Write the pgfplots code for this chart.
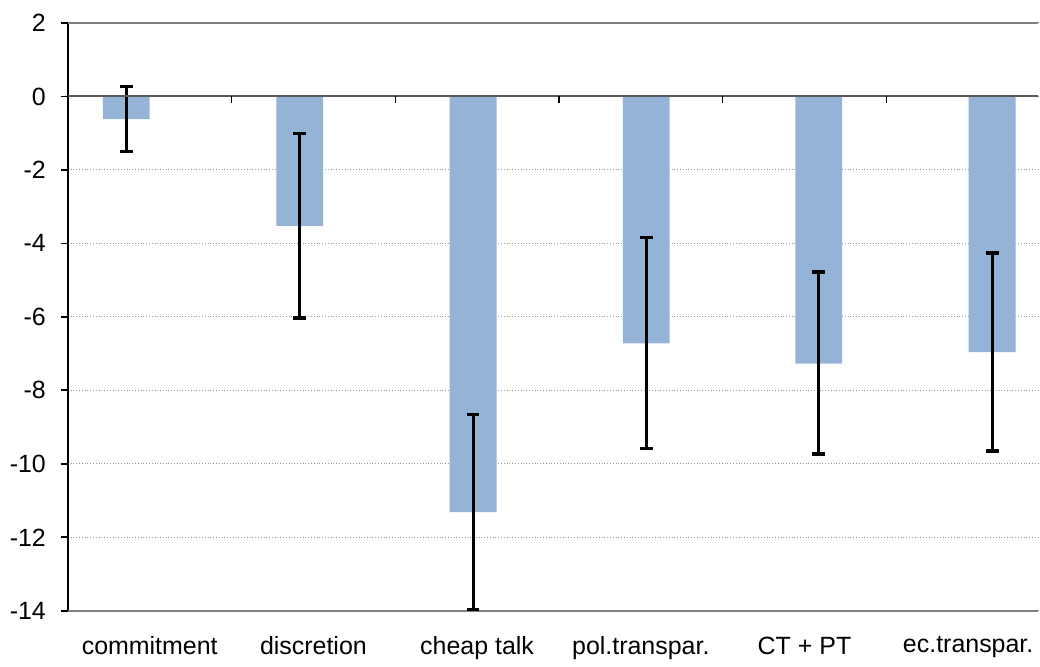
\documentclass[border=0pt]{standalone}
\usepackage{pgfplots}
\pgfplotsset{compat=1.18}
\usepackage{fontspec}
\setmainfont{Liberation Sans}
\definecolor{barblue}{RGB}{149,179,215}
\definecolor{gridgray}{RGB}{150,150,150}
\definecolor{framegray}{RGB}{128,128,128}
\definecolor{zerogray}{RGB}{90,90,90}
\begin{document}
\begin{tikzpicture}
\begin{axis}[
    scale only axis,
    width=486pt, height=294.5pt,
    xmin=68, xmax=1040,
    ymin=-14, ymax=2,
    clip=false,
    axis x line*=bottom, axis y line*=left,
    x axis line style={draw=none},
    y axis line style={black, line width=0.9pt},
    ytick={-14,-12,...,2},
    xtick={150,314,478,642,806,970},
    xticklabels={commitment, discretion, cheap talk, pol.transpar., CT + PT, ec.transpar.},
    x tick style={draw=none},
    y tick style={black, line width=0.9pt},
    tick align=outside,
    major tick length=3.5pt,
    ymajorgrids,
    grid style={gridgray, densely dotted, line width=0.5pt},
    /pgf/number format/assume math mode=true,
    ticklabel style={font=\fontsize{12.5}{15}\selectfont},
    yticklabel style={anchor=east, xshift=-4pt},
    xticklabel style={anchor=north, yshift=-6pt},
]
% frame lines at 2, -14 and the zero line
\draw[framegray, line width=1.1pt] (axis cs:68,2) -- (axis cs:1040,2);
\draw[framegray, line width=1.1pt] (axis cs:68,-14) -- (axis cs:1040,-14);

\addplot[ybar, fill=barblue, draw=none, bar width=23.5pt,
    error bars/.cd, y dir=both, y explicit,
    error bar style={draw=black, solid, line width=1.6pt},
    error mark options={rotate=90, mark size=3.2pt, line width=1.6pt, draw=black}]
coordinates {
    (126.5,-0.62)  += (0,0.89) -= (0,0.88)
    (300.3,-3.52)  += (0,2.52) -= (0,2.51)
    (474.0,-11.31) += (0,2.66) -= (0,2.66)
    (647.5,-6.72)  += (0,2.87) -= (0,2.87)
    (820.3,-7.27)  += (0,2.49) -= (0,2.46)
    (994.0,-6.96)  += (0,2.70) -= (0,2.69)
};

\draw[zerogray, line width=1pt] (axis cs:68,0) -- (axis cs:1040,0);
\pgfplotsinvokeforeach{232,396,560,724,888}{
    \draw[black, line width=0.7pt] (axis cs:#1,0) -- (axis cs:#1,-0.19);
}

\path[use as bounding box] (axis cs:0,2.625) rectangle (axis cs:1040,-15.195);
\end{axis}
\end{tikzpicture}
\end{document}
